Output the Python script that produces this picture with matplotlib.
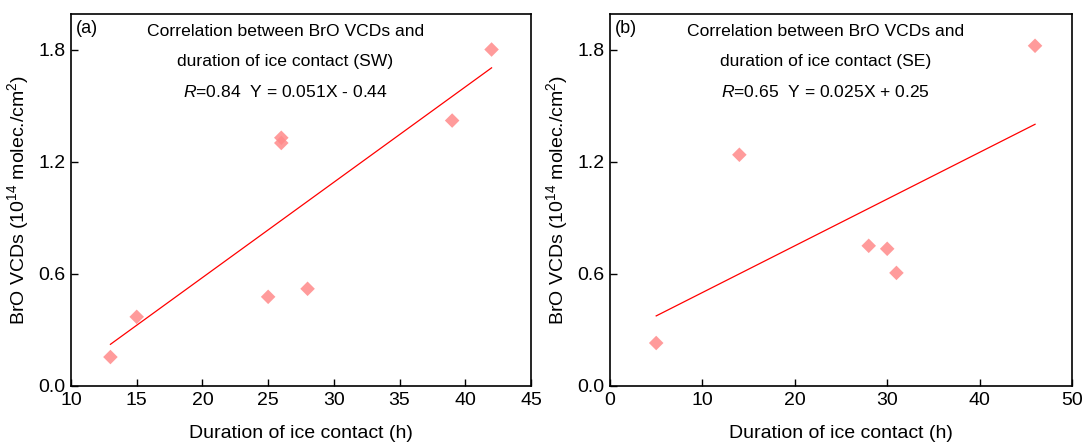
import matplotlib
matplotlib.use('Agg')
import matplotlib.pyplot as plt
import numpy as np

# Data
sw_hours = [13, 15, 25, 26, 26, 28, 39, 42]
sw_bro = [0.155, 0.37, 0.477, 1.328, 1.30, 0.52, 1.42, 1.80]
sw_slope, sw_icept = 0.051, -0.44

se_hours = [5, 14, 28, 30, 31, 46]
se_bro = [0.23, 1.237, 0.75, 0.734, 0.605, 1.82]
se_slope, se_icept = 0.025, 0.25

plt.rcParams['font.family'] = ['Liberation Sans', 'DejaVu Sans']
plt.rcParams['mathtext.fontset'] = 'custom'
plt.rcParams['mathtext.rm'] = 'Liberation Sans'
plt.rcParams['mathtext.it'] = 'Liberation Sans:italic'

fig = plt.figure(figsize=(10.85, 4.43), dpi=100)
W, H = 1085, 443
ax1 = fig.add_axes([71 / W, 1 - 386 / H, 460 / W, 372 / H])
ax2 = fig.add_axes([610 / W, 1 - 386 / H, 462 / W, 372 / H])


def draw(ax, x, y, slope, icept, tag, site, r, eq, xlim, xticks):
    ax.scatter(x, y, marker='D', s=55, color='#ff8a8a', alpha=0.85,
               edgecolors='none', zorder=3)
    xs = np.array([min(x), max(x)])
    ax.plot(xs, slope * xs + icept, color='red', lw=0.9)
    ax.set_xlim(*xlim)
    ax.set_ylim(0, 1.99)
    ax.set_xticks(xticks)
    ax.set_yticks([0.0, 0.6, 1.2, 1.8])
    ax.yaxis.set_major_formatter(plt.FormatStrFormatter('%.1f'))
    ax.tick_params(direction='in', length=5, width=1, labelsize=14, pad=4)
    for s in ax.spines.values():
        s.set_linewidth(1.2)
    ax.set_xlabel('Duration of ice contact (h)', fontsize=14, labelpad=12)
    ax.set_ylabel('BrO VCDs (10$^{14}$ molec./cm$^{2}$)', fontsize=14, labelpad=5)
    ax.text(0.01, 0.985, tag, transform=ax.transAxes, ha='left', va='top', fontsize=13)
    ax.text(0.466, 0.954, 'Correlation between BrO VCDs and', transform=ax.transAxes,
            ha='center', va='center', fontsize=12.6)
    ax.text(0.466, 0.871, 'duration of ice contact (%s)' % site, transform=ax.transAxes,
            ha='center', va='center', fontsize=12.6)
    ax.text(0.466, 0.79, '$\\it{R}$=%s  Y = %s' % (r, eq), transform=ax.transAxes,
            ha='center', va='center', fontsize=12.6)


draw(ax1, sw_hours, sw_bro, sw_slope, sw_icept, '(a)', 'SW', '0.84',
     '0.051X - 0.44', (10, 45), [10, 15, 20, 25, 30, 35, 40, 45])
draw(ax2, se_hours, se_bro, se_slope, se_icept, '(b)', 'SE', '0.65',
     '0.025X + 0.25', (0, 50), [0, 10, 20, 30, 40, 50])

fig.savefig('out.png', dpi=100)
